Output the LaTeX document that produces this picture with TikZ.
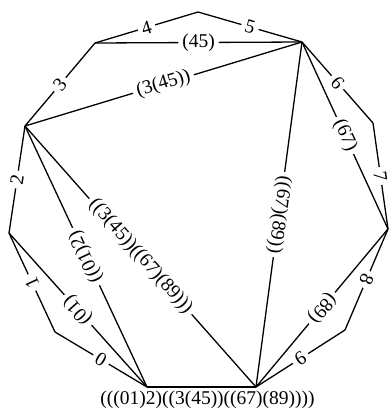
\documentclass[tikz,border=0pt]{standalone}
\usepackage{fontspec}
\setmainfont{Liberation Serif}
\begin{document}
\begin{tikzpicture}[x=1pt,y=-1pt,line width=1.3pt,line join=round,
  lbl/.style={sloped,allow upside down,fill=white,inner xsep=4pt,inner ysep=2pt,font=\fontsize{19.5}{22}\selectfont},
  rootlbl/.style={inner sep=0pt,font=\fontsize{19.5}{22}\selectfont}]
\useasboundingbox (0,0) rectangle (389,413);
\coordinate (p0) at (147,387);
\coordinate (p1) at (55,332);
\coordinate (p2) at (9,233);
\coordinate (p3) at (25,126);
\coordinate (p4) at (95,43);
\coordinate (p5) at (198,12);
\coordinate (p6) at (302,42);
\coordinate (p7) at (373,123);
\coordinate (p8) at (388,229);
\coordinate (p9) at (345,330);
\coordinate (p10) at (256,387);
% edges
\draw (p0) -- node[lbl] (e0) {0} (p1);
\draw (p1) -- node[lbl] (e1) {1} (p2);
\draw (p2) -- node[lbl] (e2) {2} (p3);
\draw (p3) -- node[lbl] (e3) {3} (p4);
\draw (p4) -- node[lbl] (e4) {4} (p5);
\draw (p5) -- node[lbl] (e5) {5} (p6);
\draw (p6) -- node[lbl] (e6) {6} (p7);
\draw (p7) -- node[lbl] (e7) {7} (p8);
\draw (p8) -- node[lbl] (e8) {8} (p9);
\draw (p9) -- node[lbl] (e9) {9} (p10);
% diagonals
\draw (p0) -- node[lbl] (d02) {(01)} (p2);
\draw (p0) -- node[lbl] (d03) {((01)2)} (p3);
\draw (p4) -- node[lbl] (d46) {(45)} (p6);
\draw (p3) -- node[lbl] (d36) {(3(45))} (p6);
\draw (p6) -- node[lbl] (d68) {(67)} (p8);
\draw (p8) -- node[lbl] (d810) {(89)} (p10);
\draw (p6) -- node[lbl] (d610) {((67)(89))} (p10);
\draw (p3) -- node[lbl] (d310) {((3(45))((67)(89)))} (p10);
% root
\draw (p0) -- (p10);
\node[rootlbl,anchor=north] (root) at (207.5,390) {(((01)2)((3(45))((67)(89))))};
\end{tikzpicture}
\end{document}
